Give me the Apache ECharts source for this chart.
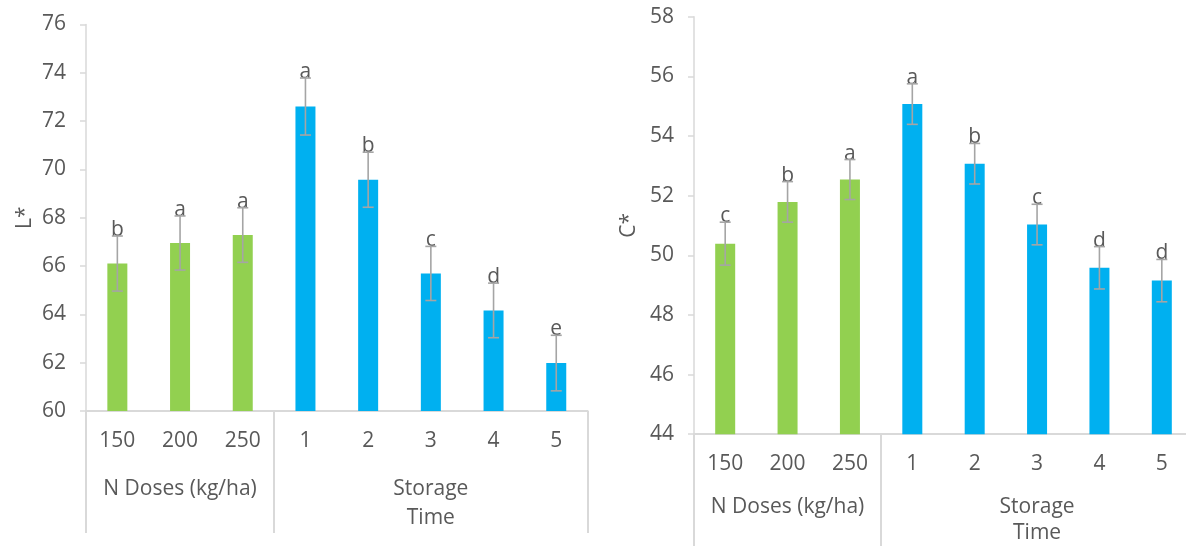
<!DOCTYPE html>
<html>
<head>
<meta charset="utf-8">
<script src="https://cdn.jsdelivr.net/npm/echarts@6/dist/echarts.min.js"></script>
<style>
html,body{margin:0;padding:0;background:#fff;}
#chart{width:1186px;height:546px;}
</style>
</head>
<body>
<div id="chart"></div>
<script>
// ---- data ----
const categories = ['150', '200', '250', '1', '2', '3', '4', '5'];
const groupNames = ['N Doses (kg/ha)', 'Storage\nTime'];
const groupSizes = [3, 5];

const lValues = [66.1, 66.95, 67.28, 72.6, 69.57, 65.69, 64.16, 61.98];
const lErrors = [1.14, 1.12, 1.13, 1.18, 1.14, 1.12, 1.13, 1.15];
const lLetters = ['b', 'a', 'a', 'a', 'b', 'c', 'd', 'e'];

const cValues = [50.39, 51.79, 52.54, 55.07, 53.07, 51.03, 49.58, 49.15];
const cErrors = [0.72, 0.68, 0.67, 0.68, 0.68, 0.68, 0.71, 0.71];
const cLetters = ['c', 'b', 'a', 'a', 'b', 'c', 'd', 'd'];

const lTicks = {min: 60, max: 76, interval: 2};
const cTicks = {min: 44, max: 58, interval: 2};

// ---- styles ----
const FONT = 'Open Sans';
const TXT = '#595959';
const AXIS = '#d9d9d9';
const GREEN = '#92D050';
const BLUE = '#00B0F0';
const ERR = '#a5a5a5';

// group helpers derived from group sizes
const groupStarts = [];
const groupCenters = [];
(function () {
  let s = 0;
  groupSizes.forEach(function (n) {
    groupStarts.push(s);
    groupCenters.push(s + (n - 1) / 2);
    s += n;
  });
})();

function barColor(p) {
  return p.dataIndex < groupSizes[0] ? GREEN : BLUE;
}

function errSeries(values, errors, letters, xi, yi) {
  return {
    type: 'custom',
    xAxisIndex: xi,
    yAxisIndex: yi,
    z: 5,
    silent: true,
    data: values.map(function (v, i) { return [i, v, errors[i]]; }),
    renderItem: function (params, api) {
      const i = api.value(0);
      const v = api.value(1);
      const e = api.value(2);
      const top = api.coord([i, v + e]);
      const bot = api.coord([i, v - e]);
      const x = top[0];
      const hw = 5.5;
      const ls = {stroke: ERR, lineWidth: 1.6};
      return {
        type: 'group',
        children: [
          {type: 'text', style: {text: letters[params.dataIndex], x: x, y: top[1] - 6,
            align: 'center', verticalAlign: 'middle', fill: TXT,
            fontFamily: FONT, fontSize: 21}},
          {type: 'line', shape: {x1: x, y1: top[1], x2: x, y2: bot[1]}, style: ls},
          {type: 'line', shape: {x1: x - hw, y1: top[1], x2: x + hw, y2: top[1]}, style: ls},
          {type: 'line', shape: {x1: x - hw, y1: bot[1], x2: x + hw, y2: bot[1]}, style: ls}
        ]
      };
    }
  };
}

function catAxis(gi, margin) {
  return {
    type: 'category', gridIndex: gi, position: 'bottom', data: categories,
    boundaryGap: true,
    axisLine: {show: true, onZero: false, lineStyle: {color: AXIS, width: 2}},
    axisTick: {show: false},
    axisLabel: {color: TXT, fontFamily: FONT, fontSize: 21, margin: margin, interval: 0},
    splitLine: {show: false}
  };
}

function groupAxis(gi, margin, lh, tickLen) {
  return {
    type: 'category', gridIndex: gi, position: 'bottom', data: categories,
    boundaryGap: true,
    axisLine: {show: false, onZero: false},
    axisTick: {show: true, length: tickLen, inside: false,
      interval: function (i) { return groupStarts.indexOf(i) >= 0; },
      lineStyle: {color: AXIS, width: 2}},
    axisLabel: {color: TXT, fontFamily: FONT, fontSize: 21, margin: margin, lineHeight: lh,
      interval: function (i) { return groupCenters.indexOf(i) >= 0; },
      formatter: function (v, i) {
        const g = groupCenters.indexOf(i);
        return g >= 0 ? groupNames[g] : '';
      }},
    splitLine: {show: false}
  };
}

function valAxis(gi, t, name, gap) {
  return {
    type: 'value', gridIndex: gi, min: t.min, max: t.max, interval: t.interval,
    name: name, nameLocation: 'middle', nameGap: gap, nameRotate: 90,
    nameTextStyle: {color: TXT, fontFamily: FONT, fontSize: 21},
    axisLine: {show: true, lineStyle: {color: AXIS, width: 1.5}},
    axisTick: {show: true, length: 6, lineStyle: {color: AXIS, width: 1.5}},
    axisLabel: {color: TXT, fontFamily: FONT, fontSize: 21, margin: 20},
    splitLine: {show: false}
  };
}

const chart = echarts.init(document.getElementById('chart'), null, {renderer: 'canvas'});
chart.setOption({
  animation: false,
  backgroundColor: '#ffffff',
  grid: [
    {left: 86, top: 24.4, width: 501.6, height: 386.5, containLabel: false, outerBoundsMode: 'none'},
    {left: 694, top: 16.7, width: 499, height: 417.5, containLabel: false, outerBoundsMode: 'none'}
  ],
  xAxis: [
    catAxis(0, 20),
    groupAxis(0, 64, 29, 122),
    catAxis(1, 19),
    groupAxis(1, 60, 26, 120)
  ],
  yAxis: [
    valAxis(0, lTicks, 'L*', 50),
    valAxis(1, cTicks, 'C*', 54)
  ],
  series: [
    {type: 'bar', xAxisIndex: 0, yAxisIndex: 0, data: lValues, barWidth: 20,
      itemStyle: {color: barColor}},
    errSeries(lValues, lErrors, lLetters, 0, 0),
    {type: 'bar', xAxisIndex: 2, yAxisIndex: 1, data: cValues, barWidth: 20,
      itemStyle: {color: barColor}},
    errSeries(cValues, cErrors, cLetters, 2, 1)
  ]
});
</script>
</body>
</html>
